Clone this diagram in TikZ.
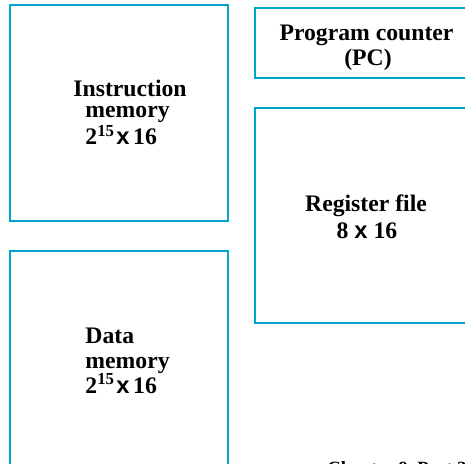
\documentclass[tikz,border=0pt]{standalone}
\usepackage{fontspec}
\setmainfont{Liberation Serif}
\newfontfamily\crossfont{Liberation Sans}
\usetikzlibrary{fit}
\definecolor{boxblue}{RGB}{0,165,205}
\newcommand{\lblsize}{\fontsize{11.85pt}{12pt}\selectfont}
\newcommand{\timesx}{{\crossfont\bfseries x}}
\newcommand{\powtwo}{2\raisebox{0.34em}{\fontsize{8.4pt}{9pt}\selectfont 15}\hspace{1.2pt}\timesx\hspace{1.8pt}16}
\tikzset{
  box/.style={draw=boxblue, line width=1pt, inner sep=0pt, rectangle},
  lbl/.style={inner sep=0pt, font=\lblsize\bfseries, text=black},
}
\begin{document}
\begin{tikzpicture}[x=0.5pt, y=-0.5pt]
  \useasboundingbox (0,0) rectangle (464,464);

  % outlines of the four blocks
  \node[box, fit={(10,5) (228,221)}] (imem) {};
  \node[box, fit={(255,8) (480,78)}] (pc) {};
  \node[box, fit={(255,108) (480,323)}] (regs) {};
  \node[box, fit={(10,251) (228,490)}] (dmem) {};

  % instruction memory
  \node[lbl, anchor=base west] (imem1) at (73,97) {Instruction};
  \node[lbl, anchor=base west] (imem2) at (85,118) {memory};
  \node[lbl, anchor=base west] (imem3) at (85,145) {\powtwo};

  % program counter
  \node[lbl, anchor=base] (pc1) at (366.5,41) {Program counter};
  \node[lbl, anchor=base] (pc2) at (368,66) {(PC)};

  % register file
  \node[lbl, anchor=base] (regs1) at (366,212) {Register file};
  \node[lbl, anchor=base] (regs2) at (367,238) {8 \timesx{} 16};

  % data memory
  \node[lbl, anchor=base west] (dmem1) at (85,343) {Data};
  \node[lbl, anchor=base west] (dmem2) at (85,368) {memory};
  \node[lbl, anchor=base west] (dmem3) at (85,393) {\powtwo};

  % running footer, partly below the page edge
  \node[inner sep=0pt, anchor=base west, font=\fontsize{9.35pt}{10pt}\selectfont\bfseries] (foot) at (327,474) {Chapter 9, Part 2};
\end{tikzpicture}
\end{document}
